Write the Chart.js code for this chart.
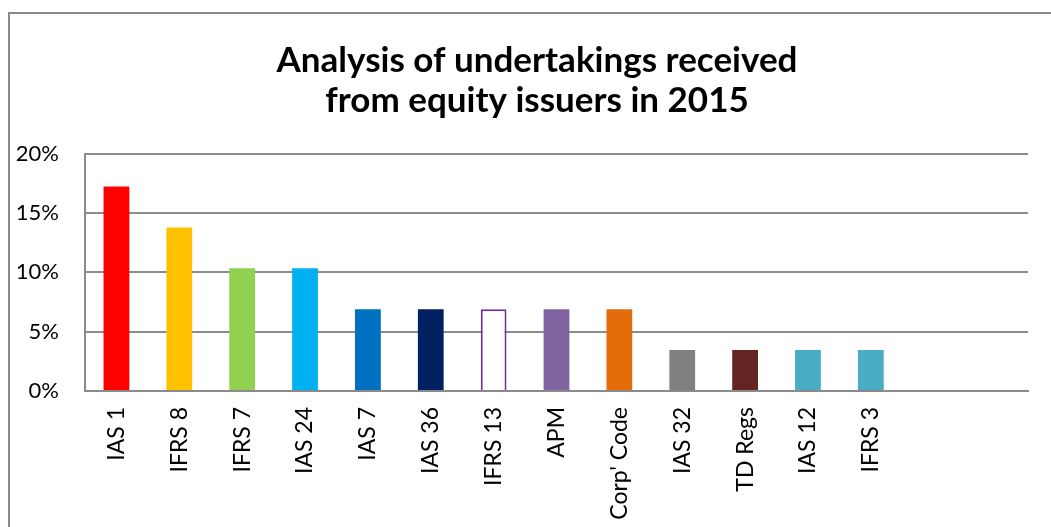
<!DOCTYPE html>
<html>
<head>
<meta charset="utf-8">
<script src="https://cdn.jsdelivr.net/npm/chart.js@4"></script>
<style>
  html, body { margin: 0; padding: 0; overflow: hidden; background: #fff; width: 1051px; height: 527px; }
  #frame { position: absolute; left: 8px; top: 12px; width: 1054px; height: 530px; border: 2px solid #8a8a8a; background: #fff; }
  #c { display: block; }
</style>
</head>
<body>
<div id="frame"><canvas id="c" width="1054" height="530"></canvas></div>
<script>
const titleLines = ['Analysis of undertakings received', 'from equity issuers in 2015'];
const categories = ['IAS 1', 'IFRS 8', 'IFRS 7', 'IAS 24', 'IAS 7', 'IAS 36', 'IFRS 13', 'APM', "Corp' Code", 'IAS 32', 'TD Regs', 'IAS 12', 'IFRS 3', '', ''];
const values = [17.24, 13.79, 10.34, 10.34, 6.90, 6.90, 6.90, 6.90, 6.90, 3.45, 3.45, 3.45, 3.45, null, null];
const fillColors = ['#FF0000', '#FFC000', '#92D050', '#00B0F0', '#0070C0', '#002060', '#FFFFFF', '#8064A2', '#E46C0A', '#808080', '#632523', '#4BACC6', '#4BACC6', '#FFFFFF', '#FFFFFF'];
const edgeColors = ['#FF0000', '#FFC000', '#92D050', '#00B0F0', '#0070C0', '#002060', '#7030A0', '#8064A2', '#E46C0A', '#808080', '#632523', '#4BACC6', '#4BACC6', '#FFFFFF', '#FFFFFF'];
const edgeWidths = [0, 0, 0, 0, 0, 0, 2, 0, 0, 0, 0, 0, 0, 0, 0];
const yTicks = [0, 5, 10, 15, 20];

const FONT = 'Lato, "Open Sans", "Liberation Sans", sans-serif';

new Chart(document.getElementById('c'), {
  type: 'bar',
  data: {
    labels: categories,
    datasets: [{
      data: values,
      backgroundColor: fillColors,
      borderColor: edgeColors,
      borderWidth: edgeWidths,
      barPercentage: 0.41,
      categoryPercentage: 1.0
    }]
  },
  options: {
    responsive: false,
    animation: false,
    devicePixelRatio: 1,
    layout: { padding: 0 },
    plugins: {
      legend: { display: false },
      tooltip: { enabled: false },
      title: {
        display: true,
        text: titleLines,
        color: '#000',
        font: { family: FONT, size: 35, weight: 'bold', lineHeight: 1.14 },
        padding: { top: 27, bottom: 33 }
      }
    },
    scales: {
      x: {
        grid: { display: false, drawTicks: false },
        border: { display: true, color: '#8a8a8a', width: 2 },
        ticks: {
          autoSkip: false,
          minRotation: 90,
          maxRotation: 90,
          padding: 16,
          color: '#000',
          font: { family: FONT, size: 23 }
        },
        afterFit: s => { s.height = 153; }
      },
      y: {
        min: 0,
        max: 20,
        afterBuildTicks: s => { s.ticks = yTicks.map(v => ({ value: v })); },
        grid: { color: '#8c8c8c', lineWidth: 2, drawTicks: false },
        border: { display: true, color: '#8a8a8a', width: 2 },
        ticks: {
          padding: 26,
          color: '#000',
          font: { family: FONT, size: 22 },
          callback: v => v + '%'
        },
        afterFit: s => { s.width = 75; }
      },
      spacer: {
        type: 'linear',
        position: 'right',
        display: true,
        grid: { display: false, drawTicks: false },
        border: { display: false },
        ticks: { display: false },
        afterFit: s => { s.width = 36; }
      }
    }
  }
});
</script>
</body>
</html>
